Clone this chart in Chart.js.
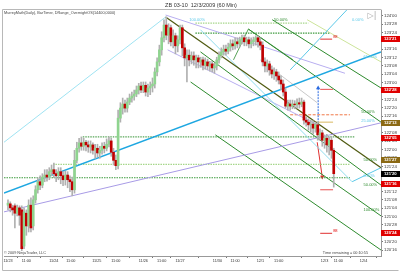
<!DOCTYPE html>
<html><head><meta charset="utf-8">
<script src="https://cdn.jsdelivr.net/npm/chart.js@4/dist/chart.umd.min.js"></script>
<style>html,body{margin:0;padding:0;background:#fff;}canvas{display:block;}</style>
</head><body>
<canvas id="c" width="400" height="273"></canvas>
<script>
// ---- candle data (ZB 03-10, 60 min) ----
const openP = [121.17,121.19,121.13,121.16,121.05,121.13,121.10,120.56,121.05,120.86,
121.17,120.86,121.25,121.40,121.52,121.47,121.59,121.62,121.59,121.67,
121.70,121.64,121.61,121.67,121.61,121.55,121.62,121.55,121.52,121.40,
121.84,122.02,122.10,122.05,122.11,122.07,122.04,122.07,121.99,122.02,
121.95,121.99,122.05,122.02,122.08,122.13,121.96,121.84,121.76,122.47,
122.62,122.68,122.62,122.71,122.77,122.80,122.83,122.89,122.95,122.89,
122.96,122.86,122.92,122.95,122.98,123.16,123.31,123.49,123.67,123.86,
123.71,123.82,123.61,123.70,123.55,123.64,123.82,123.52,123.37,123.41,
123.34,123.40,123.34,123.37,123.31,123.34,123.26,123.31,123.25,123.28,
123.22,123.25,123.34,123.41,123.46,123.50,123.47,123.53,123.58,123.55,
123.61,123.58,123.64,123.67,123.61,123.64,123.58,123.61,123.64,123.67,
123.61,123.56,123.31,123.25,123.28,123.19,123.13,123.16,123.10,123.04,
122.98,122.86,122.65,122.68,122.65,122.68,122.67,122.70,122.68,122.71,
122.44,122.41,122.37,122.38,122.32,122.37,122.22,122.25,122.14,122.17,
122.07,122.14,121.99];
const highP = [121.25,121.22,121.17,121.19,121.17,121.16,121.16,121.13,121.10,121.25,
121.28,121.31,121.46,121.58,121.61,121.64,121.70,121.70,121.73,121.77,
121.80,121.70,121.73,121.73,121.67,121.68,121.67,121.61,121.59,121.99,
122.11,122.17,122.19,122.17,122.14,122.13,122.13,122.10,122.08,122.08,
122.05,122.10,122.11,122.16,122.19,122.17,122.02,121.92,122.59,122.70,
122.77,122.74,122.77,122.83,122.86,122.89,122.95,122.99,123.01,123.01,
123.01,122.98,123.01,123.07,123.22,123.37,123.56,123.76,123.94,123.98,
123.88,123.86,123.79,123.74,123.70,123.86,123.86,123.58,123.49,123.49,
123.46,123.46,123.41,123.41,123.38,123.38,123.37,123.35,123.32,123.32,
123.29,123.38,123.46,123.52,123.56,123.56,123.59,123.64,123.64,123.67,
123.67,123.68,123.71,123.71,123.68,123.68,123.67,123.68,123.70,123.70,
123.67,123.61,123.37,123.34,123.32,123.25,123.22,123.20,123.16,123.10,
123.04,122.92,122.74,122.74,122.74,122.73,122.76,122.77,122.77,122.74,
122.49,122.46,122.44,122.43,122.41,122.41,122.31,122.29,122.22,122.23,
122.19,122.20,122.02];
const lowP = [121.10,121.07,121.02,120.83,121.01,120.87,120.49,120.52,120.72,120.77,
120.77,120.80,121.20,121.35,121.40,121.43,121.52,121.53,121.55,121.61,
121.58,121.52,121.55,121.49,121.46,121.47,121.43,121.37,121.31,121.35,
121.80,121.96,121.99,121.99,121.98,121.96,121.95,121.93,121.87,121.89,
121.87,121.93,121.95,121.98,122.04,121.90,121.77,121.70,121.71,122.41,
122.53,122.56,122.56,122.67,122.71,122.74,122.79,122.83,122.85,122.85,
122.80,122.79,122.82,122.86,122.92,123.10,123.25,123.41,123.61,123.64,
123.58,123.55,123.52,123.43,123.46,123.58,123.40,123.25,123.01,123.25,
123.28,123.26,123.22,123.22,123.23,123.19,123.20,123.19,123.17,123.16,
123.14,123.19,123.29,123.37,123.41,123.41,123.43,123.47,123.49,123.50,
123.52,123.53,123.58,123.55,123.55,123.52,123.52,123.55,123.56,123.53,
123.49,123.25,123.16,123.16,123.11,123.07,123.05,123.02,122.98,122.89,
122.80,122.62,122.59,122.59,122.61,122.61,122.62,122.62,122.64,122.38,
122.35,122.29,122.26,122.23,122.26,122.14,122.14,122.05,122.02,121.96,
121.92,121.87,121.44];
const closeP = [121.20,121.13,121.10,121.05,121.13,121.02,120.52,121.07,120.86,121.17,
120.83,121.25,121.40,121.52,121.47,121.59,121.62,121.59,121.67,121.70,
121.64,121.61,121.67,121.61,121.55,121.62,121.55,121.52,121.40,121.84,
122.02,122.10,122.05,122.11,122.07,122.04,122.07,121.99,122.02,121.95,
121.99,122.05,122.02,122.08,122.13,121.96,121.84,121.76,122.47,122.62,
122.68,122.62,122.71,122.77,122.80,122.83,122.89,122.95,122.89,122.96,
122.86,122.92,122.95,122.98,123.16,123.31,123.49,123.67,123.86,123.71,
123.82,123.61,123.70,123.55,123.64,123.82,123.52,123.37,123.41,123.34,
123.40,123.34,123.37,123.31,123.34,123.26,123.31,123.25,123.28,123.22,
123.25,123.34,123.41,123.46,123.50,123.47,123.53,123.58,123.55,123.61,
123.58,123.64,123.67,123.61,123.64,123.58,123.61,123.64,123.67,123.61,
123.56,123.31,123.25,123.28,123.19,123.13,123.16,123.10,123.04,122.98,
122.86,122.65,122.68,122.65,122.68,122.67,122.70,122.68,122.71,122.44,
122.41,122.37,122.38,122.32,122.37,122.22,122.25,122.14,122.17,122.07,
122.14,121.99,121.64];

// ---- axis ticks ----
const xTickIdx = [0, 8, 20, 27.4, 38.7, 47, 59, 67, 75, 91.3, 99, 110, 118, 138, 144, 155];
const xTickLabels = ['11/23','11:00','11/24','11:00','11/25','11:00','11/26','11:00','11/27','11/30','11:00','12/1','11:00','12/3','11:00','12/4'];
const yTickValues = [124,123.875,123.75,123.625,123.5,123.375,123.25,123.125,123,122.875,122.75,122.625,122.5,122.375,122.25,122.125,122,121.875,121.75,121.625,121.5,121.375,121.25,121.125,121,120.875,120.75,120.625,120.5];

// ---- drawing-tool lines: [barIndex, price] endpoints ----
const fanLine      = [[-1.74,122.11],[68.7,123.98]];
const blueTrend    = [[-1.74,121.35],[162.6,123.46]];
const cyanSteep    = [[123,123.19],[147.8,124.09]];
const lavenderRise = [[-1.74,121.07],[162.6,122.40]];
const medianLine   = [[68.7,123.98],[162.6,121.73]];
const forkA        = [[115.2,123.94],[162.6,122.92]];
const forkB        = [[130.4,123.94],[162.6,123.31]];
const forkE        = [[104.8,123.80],[162.6,122.41]];
const forkF        = [[83.9,123.46],[162.6,121.47]];
const forkG        = [[79.6,123.01],[162.6,121.01]];
const forkH        = [[90.4,122.22],[162.6,120.50]];
const forkHandle   = [[98.3,123.34],[104.8,123.80],[124.3,123.34]];
const cyanDown     = [[83.9,123.79],[150,121.52]];
const cyanUp       = [[150,121.52],[162.6,121.73]];
const grayLine     = [[110,123.34],[134.8,122.70]];
const lavDown1     = [[68.7,124.01],[146.9,123.14]];
const lavDown2     = [[69.6,123.49],[136.1,122.35]];
const dot23        = [[81.7,123.89],[130.9,123.89]];
const dot33        = [[81.7,123.74],[140.4,123.74]];
const dot137       = [[32.6,122.19],[151.3,122.19]];
const dot164       = [[19.6,121.78],[149.1,121.78]];
const dot177       = [[-1.74,121.58],[149.1,121.58]];
const orangeDash   = [[123,122.52],[149.1,122.52]];
const tanLine      = [[133.9,122.41],[141.7,122.41]];
const red1         = [[136.1,123.65],[141.3,123.65]];
const red2         = [[136.1,122.90],[141.7,122.90]];
const red3         = [[136.1,121.40],[141.7,121.40]];
const red4         = [[136.1,120.75],[141.3,120.75]];
const blueArrow    = [[135.2,122.26],[135.2,122.92]];
const redArrow     = [[134.8,122.11],[137,121.59]];

// ---- price markers on the axis ----
const markerPrices = [123.65,122.89,122.40,122.17,121.84,121.64,121.49,120.75];
const markerKinds  = ['red','red','brown','red','brown','black','red','red'];

// ---- percent labels [barIndex, price, text] ----
const pctLabels = [[79,123.94,'100.00%'],[116,123.93,'50.00%'],[150,123.93,'0.00%'],[155,123.39,'61.80%'],[154,122.56,'50.00%'],[154,122.43,'25.00%'],[155,121.84,'50.00%'],[155,121.60,'0.00%'],[155,121.47,'50.00%'],[155,121.10,'100.00%']];
const pctColors = ['#5bc8e8','#2e8b2e','#5bc8e8','#5bc8e8','#2e8b2e','#5bc8e8','#2e8b2e','#5bc8e8','#2e8b2e','#2e8b2e'];

const idx = openP.map((_, i) => i);
const pts = a => a.map(p => ({x: p[0], y: p[1]}));
function seg(arr, color, width, dash, extra) {
  return Object.assign({type:'line', data: pts(arr), borderColor: color, borderWidth: width,
    borderDash: dash || [], pointRadius: 0, fill: false, tension: 0, order: 2, clip: true}, extra || {});
}
const markerColor = {red:'#e00000', brown:'#8b6914', black:'#000000'};
function fmt32(v) {
  let w = Math.floor(v + 1e-9); let t = Math.round((v - w) * 32);
  if (t === 32) { w += 1; t = 0; }
  return w + "'" + (t < 10 ? '0' + t : t);
}
const SANS = '"Liberation Sans", Arial, sans-serif';

const overlay = {
  id: 'overlay',
  afterDraw(chart) {
    const ctx = chart.ctx, xs = chart.scales.x, ys = chart.scales.y, ca = chart.chartArea;
    ctx.save();
    ctx.strokeStyle = '#b8b8b8'; ctx.lineWidth = 1;
    ctx.beginPath(); ctx.moveTo(2.5, 9.5); ctx.lineTo(2.5, 270.5); ctx.lineTo(398.5, 270.5); ctx.stroke();
    ctx.beginPath(); ctx.moveTo(2.5, 9.5); ctx.lineTo(381.5, 9.5); ctx.stroke();
    ctx.fillStyle = '#333'; ctx.font = '5.5px ' + SANS; ctx.textAlign = 'center'; ctx.textBaseline = 'middle';
    ctx.fillText('ZB 03-10  12/3/2009 (60 Min)', 201, 5);
    ctx.textAlign = 'left'; ctx.font = '3.8px ' + SANS; ctx.fillStyle = '#444';
    ctx.fillText('MurreyMath(Daily), BarTimer, DRange_OvernightOS(14400,0000)', 4, 13);
    ctx.fillText('\u00a9 2009 NinjaTrader, LLC', 4, 253);
    ctx.textAlign = 'right';
    ctx.fillText('Time remaining = 00:10:55', 368, 253);
    ctx.font = '8px "DejaVu Sans"'; ctx.fillStyle = '#aaa'; ctx.textAlign = 'center';
    ctx.fillText('\u25b7|', 372, 16);
    ctx.font = '4px ' + SANS; ctx.textAlign = 'left';
    pctLabels.forEach((l, i) => {
      ctx.fillStyle = pctColors[i];
      ctx.fillText(l[2], xs.getPixelForValue(l[0]), ys.getPixelForValue(l[1]));
    });
    ctx.fillStyle = '#e00000';
    [red1, red4].forEach(r => ctx.fillText('88', xs.getPixelForValue(r[1][0]) + 1, ys.getPixelForValue(r[1][1]) - 2));
    ctx.font = 'bold 4.2px ' + SANS;
    markerPrices.forEach((p, i) => {
      const y = Math.round(ys.getPixelForValue(p));
      ctx.fillStyle = markerColor[markerKinds[i]];
      ctx.fillRect(ca.right, y - 3, 19, 6);
      ctx.fillStyle = '#fff'; ctx.textAlign = 'left';
      ctx.fillText(fmt32(p), ca.right + 3, y + 0.3);
    });
    ctx.restore();
  }
};

const datasets = [
  {type:'bar', data: idx.map(i => ({x: i, y: [openP[i], closeP[i]]})), barThickness: 2, grouped: false, order: 0,
   backgroundColor: idx.map(i => closeP[i] >= openP[i] ? '#8fd48f' : '#c00000'), borderWidth: 0},
  {type:'bar', data: idx.map(i => ({x: i, y: [lowP[i], highP[i]]})), barThickness: 1, grouped: false, order: 1,
   backgroundColor: '#b0b0b0', borderWidth: 0},
  seg(fanLine, '#9fe3f2', 1),
  seg(blueTrend, '#1ea7e1', 1.5),
  seg(cyanSteep, '#5bc8e8', 1),
  seg(lavenderRise, '#a89be6', 1),
  seg(medianLine, '#4f5a10', 1.2),
  seg(forkA, '#2e8b2e', 1),
  seg(forkB, '#cce49a', 1),
  seg(forkE, '#2e8b2e', 1),
  seg(forkF, '#2e8b2e', 1),
  seg(forkG, '#2e8b2e', 1),
  seg(forkH, '#2e8b2e', 1),
  seg(forkHandle, '#2e8b2e', 0.8),
  seg(cyanDown, '#8fdcee', 1),
  seg(cyanUp, '#5bc8e8', 1),
  seg(grayLine, '#c8c8c8', 1),
  seg(lavDown1, '#b8aef0', 1),
  seg(lavDown2, '#b8aef0', 1),
  seg(dot23, '#a6d68a', 1.2, [1.5,1]),
  seg(dot33, '#3c9a3c', 1.2, [1.5,1]),
  seg(dot137, '#5aa85a', 1.2, [1.5,1]),
  seg(dot164, '#a6d68a', 1.2, [1.5,1]),
  seg(dot177, '#3c9a3c', 1.2, [1.5,1]),
  seg(orangeDash, '#f07848', 1, [3,1.5]),
  seg(tanLine, '#d8b860', 1),
  seg(red1, '#e03030', 1),
  seg(red2, '#e85050', 1),
  seg(red3, '#e85050', 1),
  seg(red4, '#e03030', 1),
  seg(blueArrow, '#2a6ae0', 1, [2,1], {pointRadius:[0,2.5], pointStyle:'triangle', pointBackgroundColor:'#2a6ae0', pointBorderWidth:0}),
  seg(redArrow, '#e03030', 1, [], {pointRadius:[0,2.5], pointStyle:'triangle', rotation:180, pointBackgroundColor:'#e03030', pointBorderWidth:0})
];

new Chart(document.getElementById('c'), {
  data: {datasets},
  options: {
    responsive: false, animation: false, devicePixelRatio: 1,
    layout: {padding: {left: 3, top: 10, right: 0, bottom: 0}},
    plugins: {legend: {display: false}, tooltip: {enabled: false}},
    scales: {
      x: {type: 'linear', min: -1.74, max: 162.6, offset: false,
        afterBuildTicks: s => { s.ticks = xTickIdx.map(v => ({value: v})); },
        afterFit: s => { s.height = 17; },
        grid: {display: true, drawOnChartArea: false, drawTicks: true, tickLength: 2, color: '#777'},
        border: {display: true, color: '#999'},
        ticks: {autoSkip: false, maxRotation: 0, padding: 1, color: '#333', font: {size: 3.8, family: 'Liberation Sans'},
          callback: (v, i) => xTickLabels[i]}
      },
      y: {type: 'linear', position: 'right', min: 120.411, max: 124.085,
        afterBuildTicks: s => { s.ticks = yTickValues.map(v => ({value: v})); },
        afterFit: s => { s.width = 19; },
        grid: {display: true, drawOnChartArea: false, drawTicks: true, tickLength: 2, color: '#777'},
        border: {display: true, color: '#999'},
        ticks: {padding: 1, color: '#333', font: {size: 4.3, family: 'Liberation Sans'}, callback: v => fmt32(v)}
      }
    }
  },
  plugins: [overlay]
});
</script>
</body></html>
